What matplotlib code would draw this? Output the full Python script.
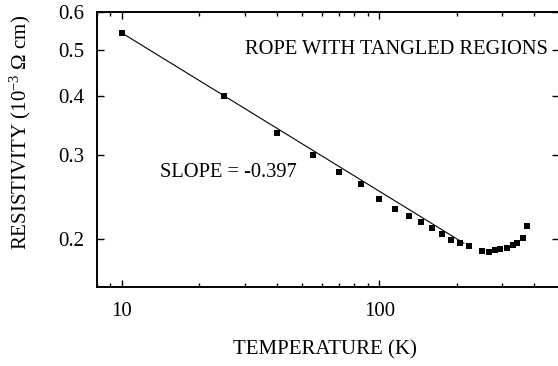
import matplotlib
matplotlib.use("Agg")
import matplotlib.pyplot as plt
from matplotlib.ticker import FixedLocator, NullLocator, FixedFormatter, LogLocator, NullFormatter

plt.rcParams['font.family'] = ['Liberation Serif', 'DejaVu Serif']
plt.rcParams['mathtext.fontset'] = 'custom'
plt.rcParams['mathtext.rm'] = 'Liberation Serif'
plt.rcParams['mathtext.it'] = 'Liberation Serif:italic'

# data
temperature = [10, 25, 40, 55, 70, 85, 100, 115, 130, 145, 160, 175, 190, 206, 222,
               251, 267, 282, 294, 312, 329, 344, 360, 376]
resistivity = [0.542, 0.400, 0.334, 0.301, 0.277, 0.261, 0.243, 0.231, 0.224, 0.217,
               0.2114, 0.205, 0.199, 0.1965, 0.1936, 0.189, 0.188, 0.190, 0.1904,
               0.192, 0.1945, 0.1965, 0.2013, 0.2133]
fit_T = [10, 213]
fit_rho = [0.542, 0.196]

y_ticks = [0.2, 0.3, 0.4, 0.5, 0.6]
y_labels = ['0.2', '0.3', '0.4', '0.5', '0.6']
x_ticks = [10, 100]
x_labels = ['10', '100']

fig = plt.figure(figsize=(5.58, 3.66), dpi=100)
ax = fig.add_axes([97/558, 1 - 287/366, (559.3 - 97)/558, (287 - 12)/366])

ax.plot(fit_T, fit_rho, color='black', lw=0.8)
ax.plot(temperature, resistivity, 's', color='black', ms=4.5, mew=0)

ax.set_xscale('log')
ax.set_yscale('log')
ax.set_xlim(8, 500)
ax.set_ylim(0.1586, 0.6)

ax.yaxis.set_major_locator(FixedLocator(y_ticks))
ax.yaxis.set_major_formatter(FixedFormatter(y_labels))
ax.yaxis.set_minor_locator(NullLocator())
ax.xaxis.set_major_locator(FixedLocator(x_ticks))
ax.xaxis.set_major_formatter(FixedFormatter(x_labels))
ax.xaxis.set_minor_locator(LogLocator(base=10, subs=range(2, 10)))
ax.xaxis.set_minor_formatter(NullFormatter())

ax.tick_params(which='both', direction='in', top=True, right=True, labelsize=15,
               width=1.0, colors='black')
ax.tick_params(which='major', length=5)
ax.tick_params(axis='x', which='major', pad=11)
ax.tick_params(axis='y', which='major', pad=9)
ax.tick_params(which='minor', length=3)
for s in ax.spines.values():
    s.set_linewidth(1.4)

fig.text(325/558, 1 - 350/366, 'TEMPERATURE (K)', ha='center', va='center', fontsize=15)
fig.text(20/558, 1 - 132/366, r'RESISTIVITY (10$^{-3}$ Ω cm)', rotation=90,
         ha='center', va='center', fontsize=15)

fig.text(548/558, 1 - 50/366, 'ROPE WITH TANGLED REGIONS', ha='right', va='center', fontsize=14.7)
fig.text(160/558, 1 - 172/366, 'SLOPE = -0.397', ha='left', va='center', fontsize=14.7)

fig.savefig('out.png', dpi=100)
